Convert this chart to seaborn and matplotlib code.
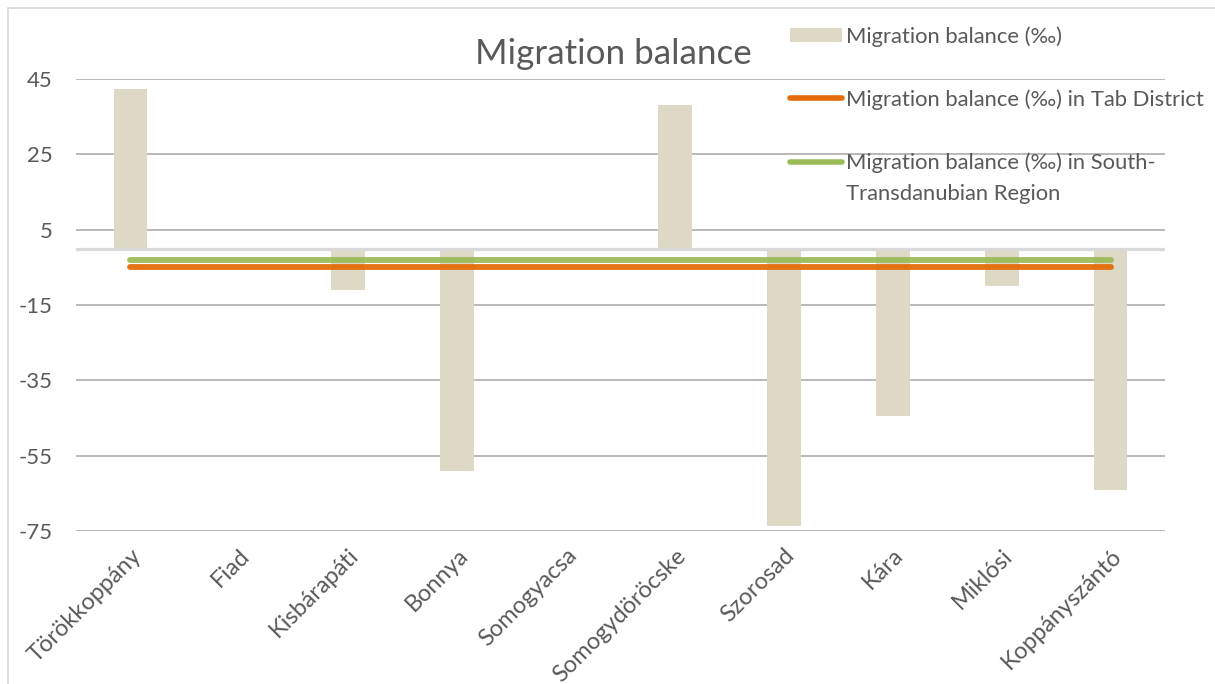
import numpy as np
import pandas as pd
import matplotlib
matplotlib.use("Agg")
import matplotlib.pyplot as plt
from matplotlib.patches import Rectangle, Patch
from matplotlib.lines import Line2D
import seaborn as sns

# Settlements of the Tab district and their migration balance (per mille)
towns = ["Törökkoppány", "Fiad", "Kisbárapáti", "Bonnya", "Somogyacsa",
         "Somogydöröcske", "Szorosad", "Kára", "Miklósi", "Koppányszántó"]
balance = [42.3, 0.0, -11.0, -59.1, 0.0, 38.2, -73.7, -44.4, -9.9, -64.2]

# Reference averages, one value per settlement
tab_district = [-4.8, -4.8, -4.8, -4.8, -4.8, -4.8, -4.8, -4.8, -4.8, -4.8]
south_transdanubia = [-3.1, -3.1, -3.1, -3.1, -3.1, -3.1, -3.1, -3.1, -3.1, -3.1]

y_ticks = [45, 25, 5, -15, -35, -55, -75]

title = "Migration balance"
label_bar = "Migration balance (‰)"
label_tab = "Migration balance (‰) in Tab District"
label_reg_1 = "Migration balance (‰) in South-"
label_reg_2 = "Transdanubian Region"

BAR = "#DDD9C4"
ORANGE = "#E46C0A"
GREEN = "#9BBB59"
GRID = "#A6A6A6"
ZERO = "#D9D9D9"
TEXT = "#595959"

sns.set_theme(style="white")
plt.rcParams["font.family"] = ["Lato", "DejaVu Sans"]

df = pd.DataFrame({"town": towns, "balance": balance,
                   "pos": np.arange(len(towns)),
                   "tab": tab_district, "region": south_transdanubia})

fig = plt.figure(figsize=(12.15, 6.84), dpi=100)
ax = fig.add_axes([76 / 1215, 1 - 531 / 684, (1165 - 76) / 1215, (531 - 79) / 684])

sns.barplot(data=df, x="town", y="balance", order=towns, color=BAR,
            width=0.31, saturation=1, linewidth=0, ax=ax, zorder=2)
ax.axhline(0, color=ZERO, lw=2.3, zorder=3)
sns.lineplot(data=df, x="pos", y="tab", color=ORANGE, lw=4.2,
             solid_capstyle="round", ax=ax, zorder=4, alpha=0.95)
sns.lineplot(data=df, x="pos", y="region", color=GREEN, lw=4.2,
             solid_capstyle="round", ax=ax, zorder=4, alpha=0.95)

ax.set_xlim(-0.5, len(towns) - 0.5)
ax.set_ylim(-75, 45)
ax.set_yticks(y_ticks)
ax.set_yticklabels([str(v) for v in y_ticks])
ax.set_xticks(np.arange(len(towns)))
ax.set_xticklabels(towns, rotation=45, ha="right", rotation_mode="anchor")
ax.tick_params(axis="y", length=0, pad=17, labelsize=16, labelcolor=TEXT)
ax.tick_params(axis="x", length=0, pad=10, labelsize=17, labelcolor=TEXT)
ax.set_xlabel("")
ax.set_ylabel("")
ax.yaxis.grid(True, color=GRID, lw=1.1, zorder=0)
ax.set_axisbelow(True)
for s in ax.spines.values():
    s.set_visible(False)
ax.patch.set_alpha(0)

fig.text(613 / 1215, 1 - 64.5 / 684, title, ha="center", va="baseline",
         fontsize=25.2, color=TEXT)

handles = [Patch(facecolor=BAR, edgecolor="none"),
           Line2D([], [], color="none"),
           Line2D([], [], color=ORANGE, lw=4, solid_capstyle="round"),
           Line2D([], [], color="none"),
           Line2D([], [], color=GREEN, lw=4, solid_capstyle="round"),
           Line2D([], [], color="none")]
labels = [label_bar, " ", label_tab, " ", label_reg_1, label_reg_2]
fig.legend(handles, labels, loc="upper left",
           bbox_to_anchor=(790 / 1215, 1 - 26 / 684), frameon=False,
           borderpad=0, borderaxespad=0, handlelength=2.37, handleheight=0.64,
           handletextpad=0.18, labelspacing=0.515, fontsize=15.8,
           labelcolor=TEXT)

fig.patches.append(Rectangle((8 / 1215, -0.1), 1.2, 1 - 8 / 684 + 0.1,
                             transform=fig.transFigure, fill=False,
                             edgecolor="#D9D9D9", lw=1.2))

fig.savefig("out.png", dpi=100, facecolor="white")
